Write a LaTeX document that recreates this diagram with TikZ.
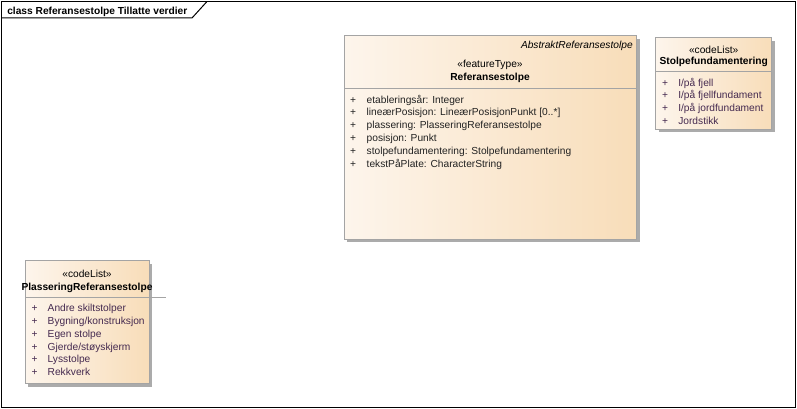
\documentclass[tikz,border=0pt]{standalone}
\usepackage{fontspec}
\setmainfont{Liberation Sans}
\definecolor{clsleft}{HTML}{FDF5EC}
\definecolor{clsright}{HTML}{F8DDB9}
\definecolor{clsborder}{HTML}{A4A4A4}
\definecolor{clsshadow}{HTML}{ABABAB}
\definecolor{attrtext}{HTML}{222222}
\definecolor{littext}{HTML}{452A50}
\tikzset{
  umlfont/.style={font=\fontsize{10.2}{12}\selectfont},
  txt/.style={umlfont, inner sep=0pt, outer sep=0pt, text=black},
  boldtxt/.style={txt, font=\fontsize{10.2}{12}\selectfont\bfseries},
  plusmark/.style={txt, anchor=base, text=attrtext},
  attr/.style={txt, anchor=base west, text=attrtext},
  lit/.style={txt, anchor=base west, text=littext},
  litplus/.style={txt, anchor=base, text=littext},
  shadowbox/.style={fill=clsshadow, draw=none},
  classbox/.style={left color=clsleft, right color=clsright, draw=clsborder, line width=0.8pt},
  sepline/.style={draw=clsborder, line width=0.8pt},
  frameline/.style={draw=black, line width=1pt}
}
\begin{document}
\begin{tikzpicture}[x=1pt,y=-1pt]
\useasboundingbox (0,0) rectangle (797,409);
\fill[white] (0,0) rectangle (797,409);
% frame
\draw[frameline] (1.5,1.5) rectangle (795.5,407.5);
\draw[frameline] (1.5,18) -- (192,18) -- (207,1.5);
\node[boldtxt, anchor=base west] (title) at (7.3,14.6) {class Referansestolpe Tillatte verdier};

% ---- Referansestolpe
\fill[shadowbox] (347,38.7) rectangle (639.5,242.3);
\path[classbox] (344,35.7) rectangle (636,239);
\draw[sepline] (344,88.3) -- (636,88.3);
\node[txt, anchor=base east, font=\fontsize{10.2}{12}\selectfont\itshape] (abs) at (632.7,48.8) {AbstraktReferansestolpe};
\node[txt, anchor=base] (ftst) at (490,68) {«featureType»};
\node[boldtxt, anchor=base] (refname) at (490,80.8) {Referansestolpe};
\foreach \t [count=\i] in {etableringsår: Integer,
  lineærPosisjon: LineærPosisjonPunkt [0..*],
  plassering: PlasseringReferansestolpe,
  posisjon: Punkt,
  stolpefundamentering: Stolpefundamentering,
  tekstPåPlate: CharacterString}{
  \node[plusmark] (rp\i) at (353.2,{103.1+12.9*(\i-1)}) {+};
  \node[attr] (ra\i) at (366.7,{103.1+12.9*(\i-1)}) {\t};
}

% ---- Stolpefundamentering
\fill[shadowbox] (658.7,40.7) rectangle (775,132.3);
\path[classbox] (655.7,37.7) rectangle (771.7,129.3);
\draw[sepline] (655.7,71.5) -- (771.7,71.5);
\node[txt, anchor=base] (sfst) at (713.7,53.3) {«codeList»};
\node[boldtxt, anchor=base] (sfname) at (713.7,64.5) {Stolpefundamentering};
\foreach \t [count=\i] in {I/på fjell, I/på fjellfundament, I/på jordfundament, Jordstikk}{
  \node[litplus] (sp\i) at (665.2,{86.3+12.7*(\i-1)}) {+};
  \node[lit] (sl\i) at (678.3,{86.3+12.7*(\i-1)}) {\t};
}

% ---- PlasseringReferansestolpe
\fill[shadowbox] (28,263.7) rectangle (152.3,386.5);
\path[classbox] (25,260.7) rectangle (149,383.5);
\draw[sepline] (25,297.3) -- (166,297.3);
\node[txt, anchor=base] (plst) at (87,277.1) {«codeList»};
\node[boldtxt, anchor=base] (plname) at (87,290.5) {PlasseringReferansestolpe};
\foreach \t [count=\i] in {Andre skiltstolper, Bygning/konstruksjon, Egen stolpe, Gjerde/støyskjerm, Lysstolpe, Rekkverk}{
  \node[litplus] (pp\i) at (34.7,{311.3+12.9*(\i-1)}) {+};
  \node[lit] (pl\i) at (47.7,{311.3+12.9*(\i-1)}) {\t};
}
\end{tikzpicture}
\end{document}
